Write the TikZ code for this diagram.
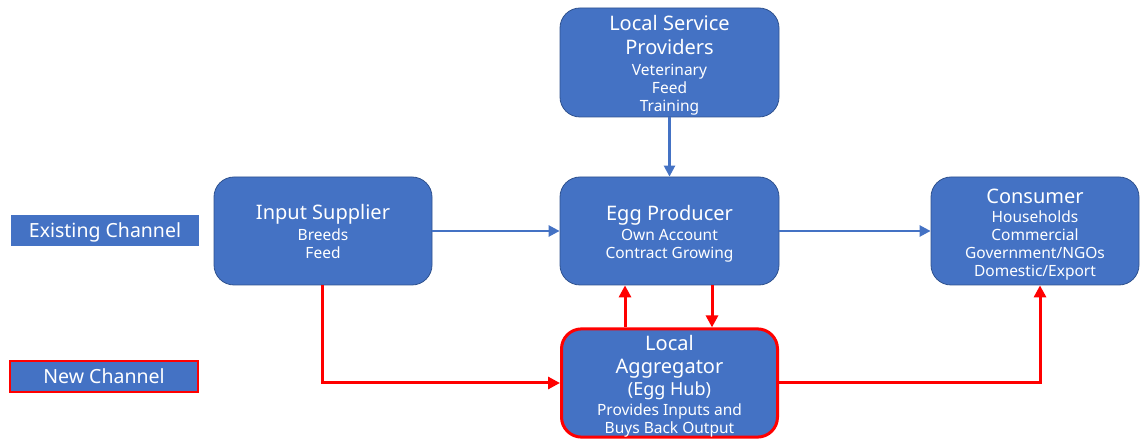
\documentclass[tikz,border=0pt]{standalone}
\usepackage{fontspec}
\setmainfont{Noto Sans}
\usetikzlibrary{arrows.meta}
\definecolor{boxblue}{HTML}{4472C4}
\definecolor{boxedge}{HTML}{2F528F}
\definecolor{newred}{HTML}{FF0000}
\newcommand{\ttl}[1]{{\fontsize{20bp}{24bp}\selectfont #1}}
% strut of the given height that sets the first row of a box lower
\newcommand{\toprow}[1]{\rule{0pt}{#1}}
\begin{document}
\begin{tikzpicture}[x=1bp,y=-1bp,
  box/.style={rectangle, rounded corners=20bp, fill=boxblue, draw=boxedge,
    line width=0.8bp, minimum width=218bp, minimum height=108bp, inner sep=0pt,
    text=white, align=center, font=\fontsize{15.5bp}{18bp}\selectfont},
  newbox/.style={box, draw=newred, line width=3bp},
  legend/.style={rectangle, fill=boxblue, minimum width=188bp, minimum height=31bp,
    inner sep=0pt, text=white, text height=14bp, text depth=0bp,
    font=\fontsize{19.5bp}{22bp}\selectfont},
  oldflow/.style={draw=boxblue, line width=2.5bp, -{Triangle[length=11bp,width=11bp]}},
  newflow/.style={draw=newred, line width=3bp, -{Triangle[length=12bp,width=12bp]}}]
\useasboundingbox (0,0) rectangle (1140,439);

% value chain actors
\node[box, minimum width=219bp, minimum height=109bp] (lsp) at (669.5,62.5)
  {\toprow{20bp}\ttl{Local Service}\\[6bp]\ttl{Providers}\\[3bp]Veterinary\\Feed\\Training};
\node[box] (inp) at (323,231) {\toprow{17bp}\ttl{Input Supplier}\\[3bp]Breeds\\Feed};
\node[box, minimum width=219bp] (prod) at (669.5,231)
  {\toprow{20bp}\ttl{Egg Producer}\\[2bp]Own Account\\Contract Growing};
\node[box, minimum width=208bp] (cons) at (1035,231)
  {\toprow{21bp}\ttl{Consumer}\\[1bp]Households\\Commercial\\Government/NGOs\\Domestic/Export};
\node[newbox, minimum width=216bp, minimum height=106bp] (agg) at (669.5,383)
  {\toprow{22bp}\ttl{Local}\\[5bp]\ttl{Aggregator}\\[2bp]{\fontsize{18bp}{20bp}\selectfont (Egg Hub)}\\[2bp]Provides Inputs and\\[0bp]Buys Back Output};

% legend
\node[legend] (leg-old) at (105,230.5) {Existing Channel};
\node[legend, draw=newred, line width=2bp] (leg-new) at (104,377) {New Channel};

% existing channel
\draw[oldflow] (lsp.south) -- (prod.north);
\draw[oldflow] (inp.east) -- (prod.west);
\draw[oldflow] (prod.east) -- (cons.west);

% new channel
\draw[newflow] ([xshift=42.5bp]prod.south) -- ([xshift=42.5bp]agg.north);
\draw[newflow] ([xshift=-44.5bp]agg.north) -- ([xshift=-44.5bp]prod.south);
\draw[newflow] ([xshift=-1bp]inp.south) |- (agg.west);
\draw[newflow] (agg.east) -| ([xshift=5bp]cons.south);
\end{tikzpicture}
\end{document}
